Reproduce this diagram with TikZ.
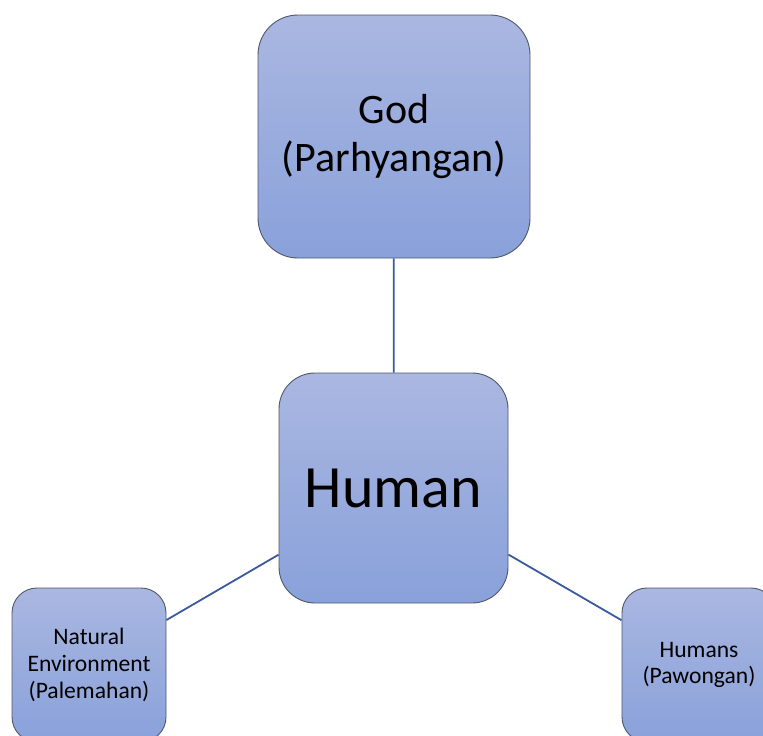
\documentclass[tikz,border=0pt]{standalone}
\usepackage{fontspec}
\setmainfont{Carlito}
\begin{document}
\begin{tikzpicture}[x=1pt,y=-1pt,
  box/.style={draw=boxedge, line width=0.9pt, top color=boxtop, bottom color=boxbottom,
    rectangle, inner sep=0pt, align=center, text=black},
  link/.style={draw=linkblue, line width=1.8pt}]
\definecolor{boxtop}{RGB}{170,183,225}
\definecolor{boxbottom}{RGB}{137,161,218}
\definecolor{boxedge}{RGB}{80,88,104}
\definecolor{linkblue}{RGB}{58,90,160}
\useasboundingbox (0,0) rectangle (763,736);
\clip (0,0) rectangle (763,736);
\fill[white] (0,0) rectangle (763,736);

% the three realms around the central node
\node[box, minimum width=272pt, minimum height=243pt, rounded corners=40pt,
  font=\fontsize{42}{48}\selectfont] (god) at (394,136.5) {God\\(Parhyangan)};
\node[box, minimum width=229pt, minimum height=230pt, rounded corners=36pt,
  font=\fontsize{60}{70}\selectfont] (human) at (393.5,488) {Human};
\node[box, minimum width=154pt, minimum height=154pt, rounded corners=25pt,
  font=\fontsize{23.6}{26.8}\selectfont] (nature) at (89,665) {Natural\\Environment\\(Palemahan)};
\node[box, minimum width=154pt, minimum height=154pt, rounded corners=25pt,
  font=\fontsize{23.6}{26.8}\selectfont] (people) at (699,665) {Humans\\(Pawongan)};

% connectors
\draw[link] (human) -- (god);
\draw[link] (human) -- (nature);
\draw[link] (human) -- (people);
\end{tikzpicture}
\end{document}
